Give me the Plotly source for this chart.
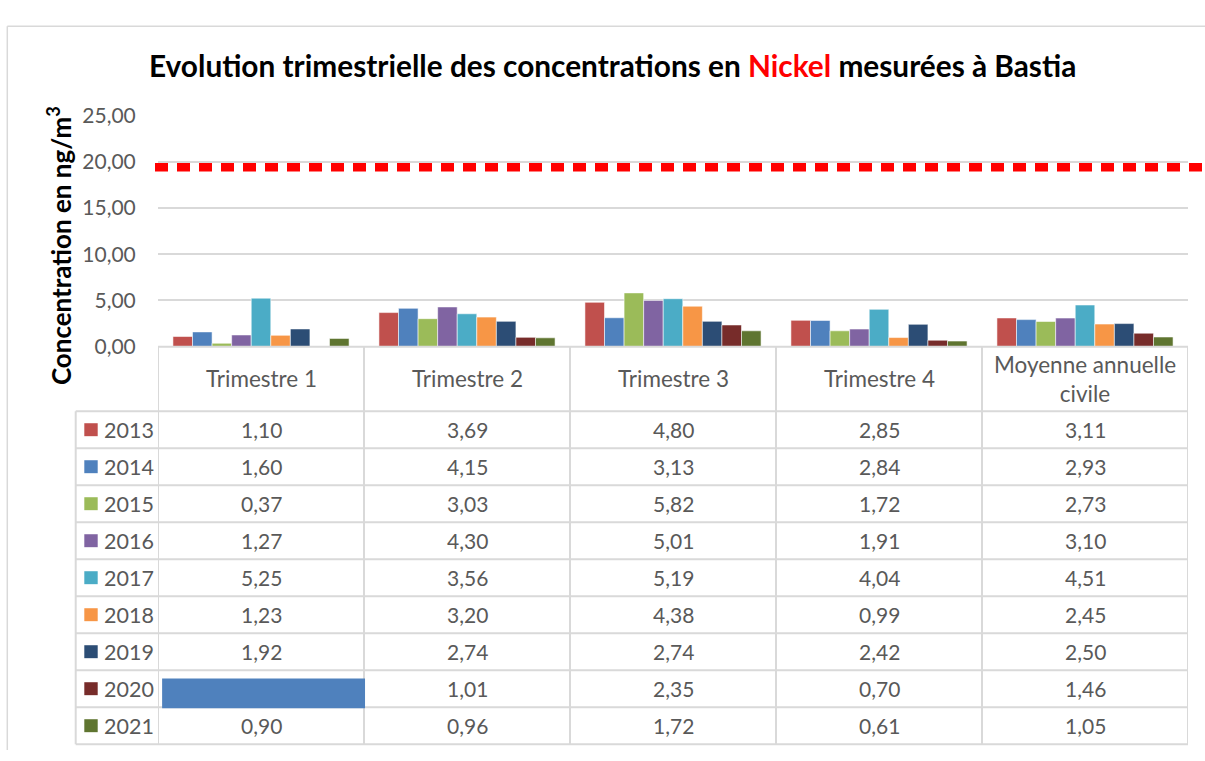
import plotly.graph_objects as go

# ---------------- data ----------------
categories = ["Trimestre 1", "Trimestre 2", "Trimestre 3", "Trimestre 4", "Moyenne annuelle civile"]
header_labels = ["Trimestre 1", "Trimestre 2", "Trimestre 3", "Trimestre 4", "Moyenne annuelle<br>civile"]
years = ["2013", "2014", "2015", "2016", "2017", "2018", "2019", "2020", "2021"]

v2013 = [1.10, 3.69, 4.80, 2.85, 3.11]
v2014 = [1.60, 4.15, 3.13, 2.84, 2.93]
v2015 = [0.37, 3.03, 5.82, 1.72, 2.73]
v2016 = [1.27, 4.30, 5.01, 1.91, 3.10]
v2017 = [5.25, 3.56, 5.19, 4.04, 4.51]
v2018 = [1.23, 3.20, 4.38, 0.99, 2.45]
v2019 = [1.92, 2.74, 2.74, 2.42, 2.50]
v2020 = [None, 1.01, 2.35, 0.70, 1.46]
v2021 = [0.90, 0.96, 1.72, 0.61, 1.05]
series_values = [v2013, v2014, v2015, v2016, v2017, v2018, v2019, v2020, v2021]

colors = ["#C0504D", "#4F81BD", "#9BBB59", "#8064A2", "#4BACC6",
          "#F79646", "#2C4D75", "#772C2A", "#5F7530"]

limit_value = 19.4
y_ticks = [0, 5, 10, 15, 20, 25]

# ---------------- layout helpers ----------------
W, H = 1205, 761
def px(x):
    return x / W
def py(y):
    return 1 - y / H

PLOT_L, PLOT_R = 158, 1188
PLOT_T, PLOT_B = 105, 344
HEAD_B = 410.7
TAB_B = 755
ROW_H = (TAB_B - HEAD_B) / len(years)
YEAR_L = 75.7
GRID = "#d9d9d9"
TXT = "#595959"
FONT = "Lato"

fig = go.Figure()
for year, vals, col in zip(years, series_values, colors):
    fig.add_trace(go.Bar(
        x=categories, y=vals, name=year,
        marker=dict(color=col, line=dict(color="rgba(255,255,255,0.55)", width=1)),
    ))

shapes = []
annotations = []

# outer frame
shapes.append(dict(type="line", xref="paper", yref="paper", x0=px(7.3), x1=1.0,
                   y0=py(12.7), y1=py(12.7), line=dict(color=GRID, width=1.5)))
shapes.append(dict(type="line", xref="paper", yref="paper", x0=px(7.3), x1=px(7.3),
                   y0=py(12.7), y1=0, line=dict(color=GRID, width=1.5)))

# limit line
shapes.append(dict(type="line", xref="paper", yref="y", x0=px(155), x1=1.0,
                   y0=limit_value, y1=limit_value, layer="above",
                   line=dict(color="#FF0000", width=8.5, dash="13px,9px")))

# table: horizontal lines
shapes.append(dict(type="line", xref="paper", yref="paper", x0=px(PLOT_L), x1=px(PLOT_R),
                   y0=py(PLOT_B), y1=py(PLOT_B), line=dict(color=GRID, width=2)))
for k in range(len(years) + 1):
    yy = HEAD_B + ROW_H * k
    shapes.append(dict(type="line", xref="paper", yref="paper", x0=px(YEAR_L), x1=px(PLOT_R),
                       y0=py(yy), y1=py(yy), line=dict(color=GRID, width=2)))
# vertical lines
for j in range(len(categories) + 1):
    shapes.append(dict(type="line", xref="x", yref="paper", x0=j - 0.5, x1=j - 0.5,
                       y0=py(PLOT_B), y1=py(TAB_B), line=dict(color=GRID, width=2)))
shapes.append(dict(type="line", xref="paper", yref="paper", x0=px(YEAR_L), x1=px(YEAR_L),
                   y0=py(HEAD_B), y1=py(TAB_B), line=dict(color=GRID, width=2)))

# header texts
for cat, lab in zip(categories, header_labels):
    annotations.append(dict(x=cat, xref="x", y=py((PLOT_B + HEAD_B) / 2), yref="paper",
                            text=lab, showarrow=False, xanchor="center", yanchor="middle",
                            font=dict(family=FONT, size=22.5, color=TXT)))

# rows
for i, (year, vals, col) in enumerate(zip(years, series_values, colors)):
    top = HEAD_B + ROW_H * i
    yc = top + ROW_H / 2
    shapes.append(dict(type="rect", xref="paper", yref="paper", x0=px(84.3), x1=px(97.7),
                       y0=py(yc - 6.7), y1=py(yc + 6.7), fillcolor=col, line=dict(width=0)))
    annotations.append(dict(x=px(102), xref="paper", y=py(yc), yref="paper", text=year,
                            showarrow=False, xanchor="left", yanchor="middle",
                            font=dict(family=FONT, size=21.5, color=TXT)))
    for j, (cat, v) in enumerate(zip(categories, vals)):
        if v is None:
            shapes.append(dict(type="rect", xref="x", yref="paper", x0=j - 0.48, x1=j + 0.505,
                               y0=py(top + 8.5), y1=py(top + ROW_H + 1), fillcolor="#4F81BD",
                               line=dict(width=0), layer="above"))
            continue
        annotations.append(dict(x=cat, xref="x", y=py(yc), yref="paper",
                                text=f"{v:.2f}".replace(".", ","), showarrow=False,
                                xanchor="center", yanchor="middle",
                                font=dict(family=FONT, size=21, color=TXT)))

# title
annotations.append(dict(x=px(612), xref="paper", y=py(53), yref="paper",
                        text="Evolution trimestrielle des concentrations en "
                             "<span style='color:#FF0000'>Nickel</span> mesurées à Bastia",
                        showarrow=False, xanchor="center", yanchor="middle",
                        font=dict(family=FONT, size=29.8, color="#000000", weight="bold")))
# y-axis title
annotations.append(dict(x=px(59), xref="paper", y=py(240), yref="paper",
                        text="Concentration en ng/m<sup>3</sup>", textangle=-90,
                        showarrow=False, xanchor="center", yanchor="middle",
                        font=dict(family=FONT, size=26, color="#000000", weight="bold")))

fig.update_layout(
    width=W, height=H,
    margin=dict(l=0, r=0, t=0, b=0),
    paper_bgcolor="white", plot_bgcolor="white",
    showlegend=False,
    barmode="group", bargap=0.145, bargroupgap=0,
    separators=", ",
    font=dict(family=FONT, color=TXT),
    xaxis=dict(domain=[px(PLOT_L), px(PLOT_R)], type="category", range=[-0.5, 4.5],
               showticklabels=False, showgrid=False, showline=False, zeroline=False,
               fixedrange=True),
    yaxis=dict(domain=[py(PLOT_B), py(PLOT_T)], range=[0, 25], tickvals=y_ticks,
               tickformat=".2f", showgrid=True, gridcolor=GRID, gridwidth=1.5,
               zeroline=False, showline=False, ticks="outside", ticklen=17,
               tickcolor="rgba(0,0,0,0)", tickfont=dict(family=FONT, size=21, color=TXT)),
    shapes=shapes,
    annotations=annotations,
)

fig.write_html(
    "out.html",
    config={"displayModeBar": False},
    post_script=(
        "document.documentElement.style.margin='0';"
        "document.body.style.margin='0';document.body.style.overflow='hidden';"
        "var d=document.getElementById('{plot_id}');"
        "d.style.position='fixed';d.style.top='0px';d.style.left='0px';"
    ),
)
